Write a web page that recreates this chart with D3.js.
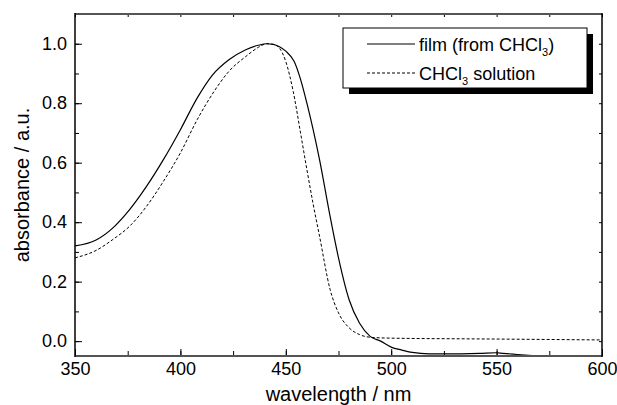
<!DOCTYPE html>
<html>
<head>
<meta charset="utf-8">
<script src="https://cdn.jsdelivr.net/npm/d3@7"></script>
<style>
  body { margin: 0; background: #fff; }
  svg { display: block; font-family: "Liberation Sans", Arial, sans-serif; }
</style>
</head>
<body>
<div id="chart"></div>
<script>
// wavelength (nm), absorbance
const filmWl = [350, 360, 368, 376, 384, 392, 400, 408, 415, 423, 431, 437, 441, 444, 447, 450, 454, 457, 460, 463, 466, 471, 475, 480, 485, 490, 495, 500, 505, 510, 518, 526, 542, 550, 553, 560, 569];
const filmAbs = [0.32, 0.34, 0.381, 0.443, 0.521, 0.611, 0.711, 0.818, 0.893, 0.946, 0.98, 0.995, 1.0, 0.998, 0.99, 0.975, 0.94, 0.88, 0.80, 0.71, 0.61, 0.42, 0.28, 0.14, 0.06, 0.016, 0.0, -0.02, -0.03, -0.038, -0.043, -0.043, -0.041, -0.039, -0.041, -0.045, -0.05];

const solWl = [350, 360, 368, 376, 384, 392, 400, 408, 416, 423, 431, 437, 441, 444, 447, 450, 453.5, 457, 460, 463, 466, 471, 475, 480, 485, 490, 500, 550, 600];
const solAbs = [0.28, 0.305, 0.342, 0.387, 0.454, 0.538, 0.633, 0.745, 0.84, 0.907, 0.957, 0.988, 1.0, 0.998, 0.985, 0.94, 0.84, 0.70, 0.577, 0.46, 0.353, 0.174, 0.095, 0.045, 0.022, 0.013, 0.01, 0.007, 0.004];

const xTicks = [350, 400, 450, 500, 550, 600];
const yTicks = [0.0, 0.2, 0.4, 0.6, 0.8, 1.0];

const width = 617;
const height = 405;
const margin = { top: 14, right: 15, bottom: 49, left: 75 };

const svg = d3.select("#chart").append("svg")
  .attr("width", width)
  .attr("height", height);

const x = d3.scaleLinear()
  .domain([350, 600])
  .range([margin.left, width - margin.right]);

const y = d3.scaleLinear()
  .domain([-0.05, 1.1])
  .range([height - margin.bottom, margin.top]);

const x0 = x.range()[0], x1 = x.range()[1];
const y0 = y.range()[0], y1 = y.range()[1];

svg.append("clipPath").attr("id", "plot-clip")
  .append("rect")
  .attr("x", x0).attr("y", y1)
  .attr("width", x1 - x0).attr("height", y0 - y1);

// curves
const line = d3.line()
  .x(d => x(d[0]))
  .y(d => y(d[1]))
  .curve(d3.curveMonotoneX);

const film = filmWl.map((w, i) => [w, filmAbs[i]]);
const sol = solWl.map((w, i) => [w, solAbs[i]]);

svg.append("path")
  .datum(sol)
  .attr("clip-path", "url(#plot-clip)")
  .attr("d", line)
  .style("fill", "none")
  .style("stroke", "#000")
  .style("stroke-width", 1)
  .style("stroke-dasharray", "3,2");

svg.append("path")
  .datum(film)
  .attr("clip-path", "url(#plot-clip)")
  .attr("d", line)
  .style("fill", "none")
  .style("stroke", "#000")
  .style("stroke-width", 1.2);

// axes, ticks pointing inward
const minorX = d3.range(350, 601, 25);
const minorY = d3.range(0, 1.01, 0.1);

svg.append("g")
  .attr("transform", `translate(0, ${y0})`)
  .call(d3.axisBottom(x).tickValues(minorX).tickSize(-5).tickFormat(""))
  .call(g => g.select(".domain").remove());

svg.append("g")
  .attr("transform", `translate(0, ${y0})`)
  .call(d3.axisBottom(x).tickValues(xTicks).tickSize(-7).tickPadding(6))
  .call(g => g.select(".domain").remove())
  .call(g => g.selectAll("text").style("font-size", "18px").attr("fill", "#000"));

svg.append("g")
  .attr("transform", `translate(0, ${y1})`)
  .call(d3.axisTop(x).tickValues(minorX).tickSize(-3).tickFormat(""))
  .call(g => g.select(".domain").remove());

svg.append("g")
  .attr("transform", `translate(${x0}, 0)`)
  .call(d3.axisLeft(y).tickValues(minorY).tickSize(-4).tickFormat(""))
  .call(g => g.select(".domain").remove());

svg.append("g")
  .attr("transform", `translate(${x0}, 0)`)
  .call(d3.axisLeft(y).tickValues(yTicks).tickSize(-7).tickPadding(8).tickFormat(d3.format(".1f")))
  .call(g => g.select(".domain").remove())
  .call(g => g.selectAll("text").style("font-size", "18px").attr("fill", "#000"));

svg.append("g")
  .attr("transform", `translate(${x1}, 0)`)
  .call(d3.axisRight(y).tickValues(minorY).tickSize(-3).tickFormat(""))
  .call(g => g.select(".domain").remove());

// frame
svg.append("line").attr("x1", x0).attr("x2", x1).attr("y1", y1).attr("y2", y1)
  .style("stroke", "#555").style("stroke-width", 2);
svg.append("line").attr("x1", x0).attr("x2", x1).attr("y1", y0).attr("y2", y0)
  .style("stroke", "#555").style("stroke-width", 2);
svg.append("line").attr("x1", x0).attr("x2", x0).attr("y1", y1 - 1).attr("y2", y0 + 1)
  .style("stroke", "#000").style("stroke-width", 1.5);
svg.append("line").attr("x1", x1).attr("x2", x1).attr("y1", y1 - 1).attr("y2", y0 + 1)
  .style("stroke", "#000").style("stroke-width", 1.5);

// axis titles
svg.append("text")
  .attr("x", (x0 + x1) / 2)
  .attr("y", 401)
  .attr("text-anchor", "middle")
  .style("font-size", "20px")
  .text("wavelength / nm");

svg.append("text")
  .attr("transform", `translate(29, ${(y0 + y1) / 2}) rotate(-90)`)
  .attr("text-anchor", "middle")
  .style("font-size", "20px")
  .text("absorbance / a.u.");

// legend
const legend = svg.append("g").attr("transform", "translate(343, 28)");

legend.append("rect")
  .attr("x", 6).attr("y", 6)
  .attr("width", 244).attr("height", 60)
  .style("fill", "#000");

legend.append("rect")
  .attr("width", 244).attr("height", 60)
  .style("fill", "#fff")
  .style("stroke", "#000")
  .style("stroke-width", 1);

const items = [
  { dash: null, y: 16, label: ["film (from CHCl", "3", ")"] },
  { dash: "3,2", y: 45, label: ["CHCl", "3", " solution"] }
];

items.forEach(item => {
  legend.append("line")
    .attr("x1", 24).attr("x2", 72)
    .attr("y1", item.y).attr("y2", item.y)
    .style("stroke", "#000")
    .style("stroke-width", item.dash ? 1 : 1.2)
    .style("stroke-dasharray", item.dash);

  const t = legend.append("text")
    .attr("x", 76)
    .attr("y", item.y + 7)
    .style("font-size", "18px");
  t.append("tspan").text(item.label[0]);
  t.append("tspan").attr("dy", 5).style("font-size", "11px").text(item.label[1]);
  t.append("tspan").attr("dy", -5).text(item.label[2]);
});
</script>
</body>
</html>
